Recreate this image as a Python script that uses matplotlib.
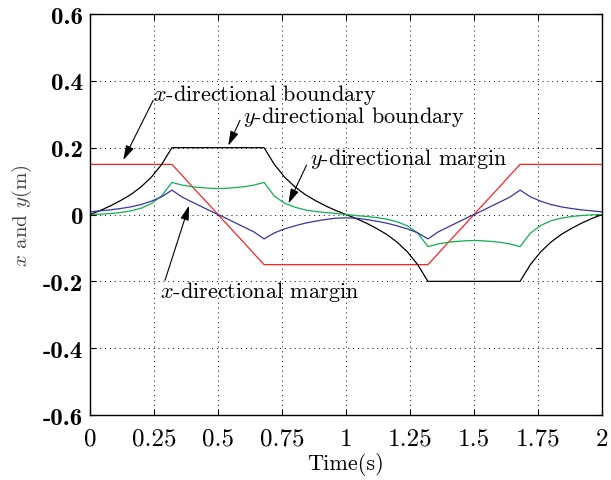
import numpy as np
import matplotlib
matplotlib.use('Agg')
import matplotlib.pyplot as plt

plt.rcParams['mathtext.fontset'] = 'cm'
plt.rcParams['axes.unicode_minus'] = False

# sampling instants (s)
t = np.linspace(0, 2, 51)

# x-directional boundary
x_bound = [0.15, 0.15, 0.15, 0.15, 0.15, 0.15, 0.15, 0.15, 0.15,
           0.117, 0.083, 0.050, 0.017, -0.017, -0.050, -0.083, -0.117, -0.150,
           -0.15, -0.15, -0.15, -0.15, -0.15, -0.15, -0.15, -0.15,
           -0.15, -0.15, -0.15, -0.15, -0.15, -0.15, -0.15, -0.15,
           -0.117, -0.083, -0.050, -0.017, 0.017, 0.050, 0.083, 0.117, 0.150,
           0.15, 0.15, 0.15, 0.15, 0.15, 0.15, 0.15, 0.15]
# y-directional boundary
y_bound = [0.0, 0.012, 0.026, 0.042, 0.060, 0.083, 0.112, 0.150, 0.200,
           0.2, 0.2, 0.2, 0.2, 0.2, 0.2, 0.2, 0.2, 0.2,
           0.150, 0.112, 0.083, 0.060, 0.042, 0.026, 0.012, 0.0,
           -0.012, -0.026, -0.042, -0.060, -0.083, -0.112, -0.150, -0.200,
           -0.2, -0.2, -0.2, -0.2, -0.2, -0.2, -0.2, -0.2, -0.2,
           -0.150, -0.112, -0.083, -0.060, -0.042, -0.026, -0.012, 0.0]
# y-directional margin
y_marg = [0.0, 0.001, 0.003, 0.006, 0.011, 0.019, 0.033, 0.056, 0.096,
          0.088, 0.083, 0.080, 0.078, 0.078, 0.080, 0.083, 0.088, 0.096,
          0.055, 0.034, 0.022, 0.014, 0.009, 0.006, 0.003, 0.0,
          -0.003, -0.006, -0.009, -0.014, -0.022, -0.034, -0.055, -0.096,
          -0.088, -0.083, -0.080, -0.078, -0.078, -0.080, -0.083, -0.088, -0.096,
          -0.056, -0.033, -0.019, -0.011, -0.006, -0.003, -0.001, 0.0]
# x-directional margin
x_marg = [0.008, 0.011, 0.014, 0.018, 0.023, 0.030, 0.040, 0.053, 0.073,
          0.052, 0.037, 0.022, 0.007, -0.007, -0.022, -0.037, -0.052, -0.073,
          -0.055, -0.043, -0.034, -0.026, -0.020, -0.015, -0.011, -0.010,
          -0.011, -0.015, -0.020, -0.026, -0.034, -0.043, -0.055, -0.073,
          -0.052, -0.037, -0.022, -0.007, 0.007, 0.022, 0.037, 0.052, 0.073,
          0.053, 0.040, 0.030, 0.023, 0.018, 0.014, 0.011, 0.008]

xticks = [0, 0.25, 0.5, 0.75, 1, 1.25, 1.5, 1.75, 2]
xtick_labels = ['0', '0.25', '0.5', '0.75', '1', '1.25', '1.5', '1.75', '2']
yticks = [-0.6, -0.4, -0.2, 0, 0.2, 0.4, 0.6]
ytick_labels = ['-0.6', '-0.4', '-0.2', '0', '0.2', '0.4', '0.6']

fig = plt.figure(figsize=(6.11, 4.81), dpi=100)
ax = fig.add_axes([0.1473, 0.1351, 0.8380, 0.8337])

ax.plot(t, x_bound, color='#ff2020', lw=0.9)
ax.plot(t, y_bound, color='k', lw=0.9)
ax.plot(t, y_marg, color='#10b050', lw=0.9)
ax.plot(t, x_marg, color='#3636a0', lw=0.9)

ax.set_xlim(0, 2)
ax.set_ylim(-0.6, 0.6)
ax.set_xticks(xticks)
ax.set_xticklabels(xtick_labels, family='cmr10', fontsize=18)
ax.set_yticks(yticks)
ax.set_yticklabels(ytick_labels, family='cmb10', fontsize=18)
ax.tick_params(direction='in', top=True, right=True, length=4, width=0.8)
ax.tick_params(axis='x', pad=9)
ax.tick_params(axis='y', pad=5)
ax.grid(True, linestyle=(0, (1, 4)), color='k', lw=0.7)
for s in ax.spines.values():
    s.set_linewidth(1.0)

ax.set_xlabel('Time(s)', family='cmr10', fontsize=16, labelpad=2)
ax.set_ylabel('$x$ and $y$(m)', family='cmr10', fontsize=15, color='#444444', labelpad=6)

arrow = dict(arrowstyle='-|>,head_length=0.55,head_width=0.16', color='k',
             lw=0.8, mutation_scale=16, shrinkA=0, shrinkB=0)
notes = [
    ('$x$-directional boundary', (0.247, 0.342), (0.130, 0.163)),
    ('$y$-directional boundary', (0.599, 0.277), (0.540, 0.206)),
    ('$y$-directional margin', (0.859, 0.150), (0.775, 0.033)),
    ('$x$-directional margin', (0.273, -0.246), (0.387, 0.027)),
]
arrow_tails = [(0.247, 0.342), (0.586, 0.282), (0.846, 0.148), (0.293, -0.197)]
for (label, pos, tip), tail in zip(notes, arrow_tails):
    ax.text(pos[0], pos[1], label, family='cmr10', fontsize=16,
            ha='left', va='baseline')
    ax.annotate('', xy=tip, xytext=tail, arrowprops=arrow)

fig.savefig('out.png', dpi=100)
